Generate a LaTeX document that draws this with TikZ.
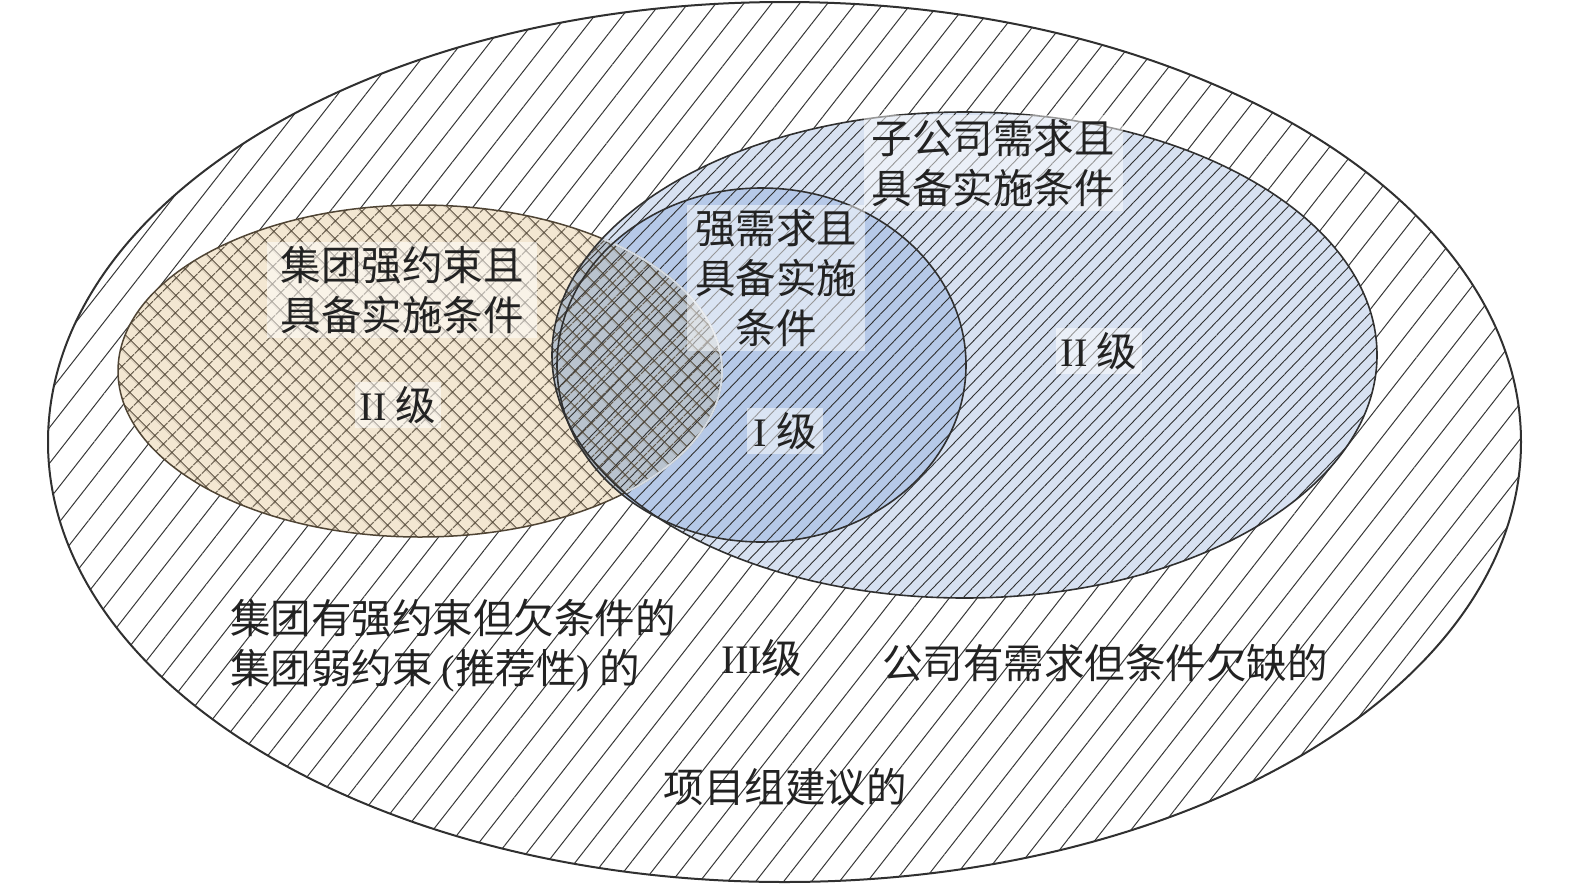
\documentclass[tikz,border=0pt]{standalone}
\usepackage{fontspec}
\setmainfont{Liberation Serif}
\newfontfamily\cjk{Noto Sans CJK SC}
\usetikzlibrary{patterns.meta}
\definecolor{tanfill}{HTML}{F3E7D2}
\definecolor{tanline}{HTML}{4F4434}
\definecolor{blueA}{HTML}{D7E1F1}
\definecolor{blueB}{HTML}{B6C9E8}
\definecolor{overlapc}{HTML}{B9C3CE}
\definecolor{edgec}{HTML}{303030}
\definecolor{txt}{HTML}{222222}
\begin{document}
\begin{tikzpicture}[x=1pt,y=-1pt,
  lbl/.style={font=\fontsize{40.5}{50}\selectfont\cjk, text=txt, inner sep=0pt, align=center},
  lblbox/.style={lbl, fill=white, fill opacity=0.5, text opacity=1, inner ysep=4.5pt},
  outerhatch/.style={pattern={Lines[angle=52,distance=22pt,line width=1pt]}, pattern color=black!78},
  bluehatch/.style={pattern={Lines[angle=46,distance=9.5pt,line width=0.9pt]}, pattern color=edgec},
  tanhatch/.style={pattern={Hatch[angle=45,distance=13pt,line width=1.1pt]}, pattern color=tanline},
]
\useasboundingbox (0,0) rectangle (1575,884);
\def\outerE{(784.5,442) ellipse [x radius=736.5pt, y radius=440pt]}
\def\bigE{(964.5,355) ellipse [x radius=412.5pt, y radius=243pt]}
\def\innerE{(761.5,365) ellipse [x radius=204.5pt, y radius=177pt]}
\def\tanE{(420,371) ellipse [x radius=302pt, y radius=166pt]}

% outer set
\path[fill=white] \outerE;
\path[outerhatch] \outerE;

% fills
\path[fill=blueA] \bigE;
\path[fill=blueB] \innerE;
\path[fill=tanfill] \tanE;
\begin{scope}
  \clip \tanE;
  \path[fill=overlapc] \bigE;
  \path[fill=overlapc] \innerE;
\end{scope}

% hatching
\path[bluehatch] \bigE;
\path[tanhatch] \tanE;

% outlines
\draw[edgec, line width=2pt] \outerE;
\draw[tanline, line width=1.5pt] \tanE;
\begin{scope}
  \clip \bigE;
  \draw[overlapc!60!white, line width=2pt] \tanE;
\end{scope}
\draw[edgec, line width=1.6pt] \bigE;
\draw[edgec, line width=1.6pt] \innerE;

% labels
\node[lblbox, inner xsep=13.5pt] (t1) at (402,290) {集团强约束且\\具备实施条件};
\node[lblbox, inner xsep=5pt] (t2) at (398,405) {\textrm{II} 级};
\node[lblbox, inner xsep=8pt] (t3) at (776,278) {强需求且\\具备实施\\条件};
\node[lblbox, inner xsep=6pt] (t4) at (785,431) {\textrm{I} 级};
\node[lblbox, inner xsep=8pt] (t5) at (993,163) {子公司需求且\\具备实施条件};
\node[lblbox, inner xsep=5pt] (t6) at (1099,351) {\textrm{II} 级};
\node[lbl, align=left, anchor=west] (t7) at (230,646) {集团有强约束但欠条件的\\集团弱约束 \textrm{(}推荐性\textrm{)} 的};
\node[lbl] (t8) at (762,658) {\textrm{III}级};
\node[lbl] (t9) at (1105,663) {公司有需求但条件欠缺的};
\node[lbl] (t10) at (785,787) {项目组建议的};
\end{tikzpicture}
\end{document}
